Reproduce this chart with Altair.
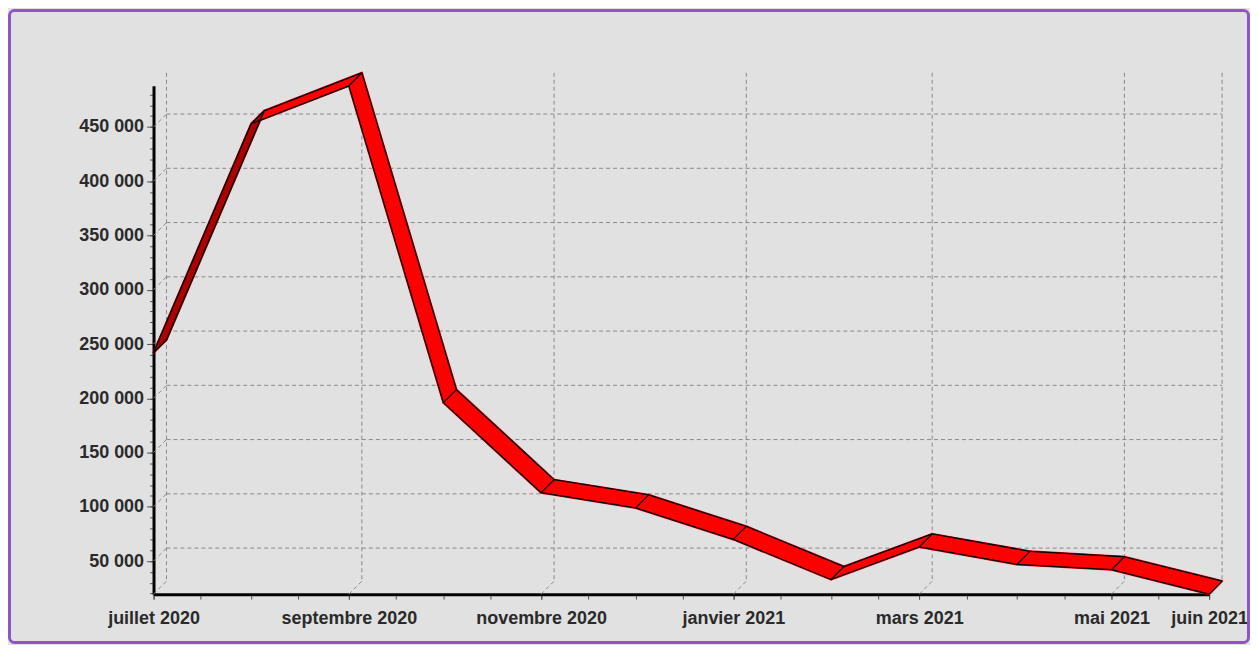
import altair as alt
import pandas as pd
from datetime import date

# ---------------- data ----------------
months = ["2020-07-01", "2020-08-01", "2020-09-01", "2020-10-01", "2020-11-01", "2020-12-01",
          "2021-01-01", "2021-02-01", "2021-03-01", "2021-04-01", "2021-05-01", "2021-06-01"]
values = [242000, 453000, 488000, 196000, 113000, 99000, 70000, 33000, 63000, 47000, 42000, 19500]

y_tick_values = [50000, 100000, 150000, 200000, 250000, 300000, 350000, 400000, 450000]
y_minor_values = list(range(20000, 490000, 10000))
x_label_months = [(2020, 7), (2020, 9), (2020, 11), (2021, 1), (2021, 3), (2021, 5), (2021, 6)]
x_minor_days = [1, 16]
month_names_fr = ["janvier", "février", "mars", "avril", "mai", "juin", "juillet", "août",
                  "septembre", "octobre", "novembre", "décembre"]

# ---------------- layout / style ----------------
W, H = 1059, 510
DEPTH = 13
PAD_L, PAD_T = 146, 77
TOTAL_W, TOTAL_H = 1246, 637
PAD_R = TOTAL_W - PAD_L - W
PAD_B = TOTAL_H - PAD_T - H
RED = "#ff0000"
DARK_RED = "#b00000"
GRID = "#8a8a8a"
BG = "#e1e1e1"
FONT = "Liberation Sans"
LABEL_COLOR = "#2a2a2a"
FS = 18

vmin, vmax = min(values), max(values)
d_first = date.fromisoformat(months[0])
d_last = date.fromisoformat(months[-1])
total_days = (d_last - d_first).days

pts = pd.DataFrame({"date": [m + "T00:00:00" for m in months], "value": values})

rows = []
for i in range(len(months) - 1):
    d0, d1 = date.fromisoformat(months[i]), date.fromisoformat(months[i + 1])
    dx = (d1 - d0).days * W / total_days
    dy = (values[i + 1] - values[i]) * H / (vmax - vmin)
    shade = "under" if dy > dx else "top"
    for m, v in ((months[i], values[i]), (months[i + 1], values[i + 1])):
        rows.append({"seg": i, "date": m + "T00:00:00", "value": v, "shade": shade})
segs = pd.DataFrame(rows)

x_scale = alt.Scale(domain=[alt.DateTime(year=d_first.year, month=d_first.month, date=1),
                            alt.DateTime(year=d_last.year, month=d_last.month, date=1)], nice=False)
y_scale = alt.Scale(domain=[vmin, vmax], nice=False, zero=False)

label_dates = [f"{y}-{m:02d}-01T00:00:00" for (y, m) in x_label_months]
minor_dates = []
yy, mm = d_first.year, d_first.month
while (yy, mm) <= (d_last.year, d_last.month):
    for dd in x_minor_days:
        if date(yy, mm, dd) <= d_last:
            minor_dates.append(alt.DateTime(year=yy, month=mm, date=dd))
    mm += 1
    if mm > 12:
        mm, yy = 1, yy + 1

names_js = "[" + ",".join("'" + n + "'" for n in month_names_fr) + "]"
x_label_expr = names_js + "[month(datum.value)] + ' ' + year(datum.value)"

major_x_axis = alt.Axis(
    values=[alt.DateTime(year=y, month=m, date=1) for (y, m) in x_label_months],
    labelExpr=x_label_expr, orient="bottom", grid=False, domain=True, domainColor="#000000",
    domainWidth=3, ticks=True, tickColor="#555555", tickSize=5, labelFont=FONT,
    labelFontSize=FS, labelFontWeight="bold", labelColor=LABEL_COLOR, labelPadding=10,
    labelOverlap=False, labelFlush=False,
)
minor_x_axis = alt.Axis(values=minor_dates, orient="bottom", grid=False, domain=False,
                        labels=False, ticks=True, tickColor="#555555", tickSize=5)
major_y_axis = alt.Axis(
    values=y_tick_values, labelExpr="format(datum.value / 1000, 'd') + ' 000'", orient="left",
    grid=False, domain=True, domainColor="#000000", domainWidth=3, ticks=True,
    tickColor="#555555", tickSize=7, labelFont=FONT, labelFontSize=FS, labelFontWeight="bold",
    labelColor=LABEL_COLOR, labelPadding=3,
)
minor_y_axis = alt.Axis(values=y_minor_values, orient="left", grid=False, domain=False,
                        labels=False, ticks=True, tickColor="#555555", tickSize=4)

# ---------------- back-wall grid ----------------
ytick_df = pd.DataFrame({"v": y_tick_values})
xlab_df = pd.DataFrame({"d": label_dates})

hgrid = alt.Chart(ytick_df).mark_rule(color=GRID, strokeDash=[4, 3], strokeWidth=1, yOffset=-DEPTH).encode(
    y=alt.Y("v:Q", scale=y_scale, axis=minor_y_axis, title=None),
    x=alt.value(DEPTH), x2=alt.value(W + DEPTH),
)
hdiag = alt.Chart(ytick_df).mark_rule(color=GRID, strokeDash=[4, 3], strokeWidth=1, y2Offset=-DEPTH).encode(
    y=alt.Y("v:Q", scale=y_scale, axis=None), y2="v:Q",
    x=alt.value(0), x2=alt.value(DEPTH),
)
vgrid = alt.Chart(xlab_df).mark_rule(color=GRID, strokeDash=[4, 3], strokeWidth=1, xOffset=DEPTH).encode(
    x=alt.X("d:T", scale=x_scale, axis=minor_x_axis, title=None),
    y=alt.value(-DEPTH), y2=alt.value(H - DEPTH),
)
vdiag = alt.Chart(xlab_df).mark_rule(color=GRID, strokeDash=[4, 3], strokeWidth=1, x2Offset=DEPTH).encode(
    x=alt.X("d:T", scale=x_scale, axis=None), x2="d:T",
    y=alt.value(H), y2=alt.value(H - DEPTH),
)

# ---------------- 3D ribbon ----------------
shade_color = alt.Color("shade:N", scale=alt.Scale(domain=["top", "under"], range=[RED, DARK_RED]), legend=None)
fills = []
for k in range(DEPTH + 1):
    fills.append(
        alt.Chart(segs).mark_line(strokeWidth=2.2, strokeCap="round", xOffset=k, yOffset=-k).encode(
            x=alt.X("date:T", scale=x_scale, axis=None),
            y=alt.Y("value:Q", scale=y_scale, axis=None),
            detail="seg:N", color=shade_color,
        )
    )

front = alt.Chart(segs).mark_line(color="#000000", strokeWidth=1.3).encode(
    x=alt.X("date:T", scale=x_scale, axis=major_x_axis, title=None),
    y=alt.Y("value:Q", scale=y_scale, axis=major_y_axis, title=None),
    detail="seg:N",
)
back = alt.Chart(segs).mark_line(color="#000000", strokeWidth=1.3, xOffset=DEPTH, yOffset=-DEPTH).encode(
    x=alt.X("date:T", scale=x_scale, axis=None),
    y=alt.Y("value:Q", scale=y_scale, axis=None),
    detail="seg:N",
)
seams = alt.Chart(pts).mark_rule(color="#000000", strokeWidth=1.2, x2Offset=DEPTH, y2Offset=-DEPTH).encode(
    x=alt.X("date:T", scale=x_scale, axis=None), x2="date:T",
    y=alt.Y("value:Q", scale=y_scale, axis=None), y2="value:Q",
)

# ---------------- frame ----------------
border = alt.Chart(pd.DataFrame({"a": [0]})).mark_rect(
    filled=False, stroke="#8e55c9", strokeWidth=3, cornerRadius=5
).encode(
    x=alt.value(-PAD_L + 1.5), x2=alt.value(W + PAD_R - 1.5),
    y=alt.value(-PAD_T + 1.5), y2=alt.value(H + PAD_B - 1.5),
)

chart = alt.layer(
    hgrid, hdiag, vgrid, vdiag, *fills, front, back, seams, border
).resolve_axis(x="independent", y="independent").properties(
    width=W, height=H,
    autosize=alt.AutoSizeParams(type="none"),
    padding={"left": PAD_L, "top": PAD_T, "right": PAD_R, "bottom": PAD_B},
    background=BG,
).configure_view(strokeOpacity=0)

chart.save("out.html", embed_options={"renderer": "svg", "actions": False})
